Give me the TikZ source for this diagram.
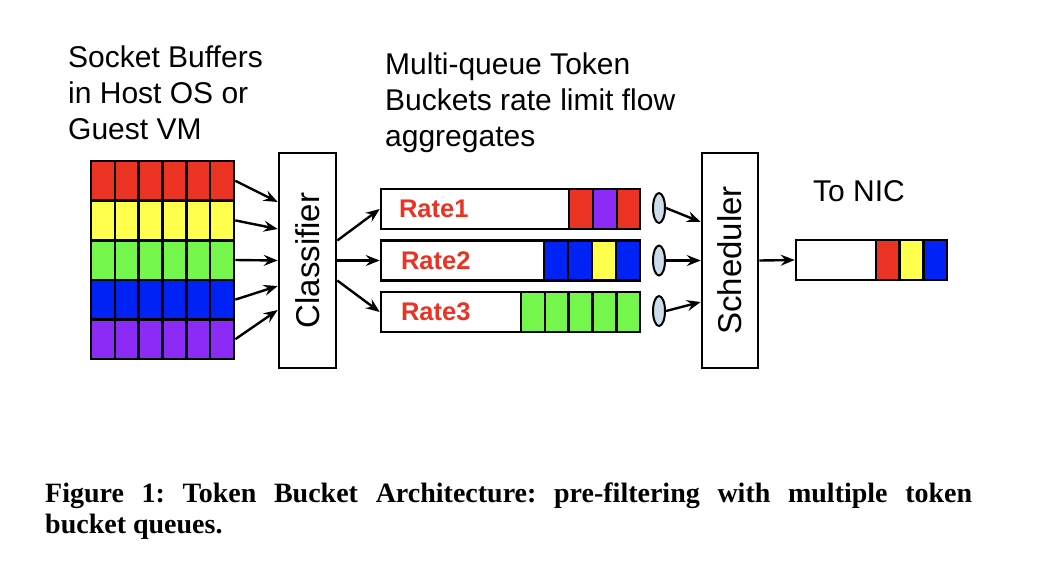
\documentclass[tikz,border=0pt]{standalone}
\usepackage{graphicx}
\usepackage{fontspec}
\setmainfont{Liberation Serif}
\setsansfont{Liberation Sans}
\usetikzlibrary{arrows.meta,calc,shapes.geometric}
\definecolor{cred}{RGB}{235,51,36}
\definecolor{cyel}{RGB}{255,255,77}
\definecolor{cgrn}{RGB}{117,246,76}
\definecolor{cblu}{RGB}{0,34,245}
\definecolor{cpur}{RGB}{140,43,246}
\definecolor{tokfill}{RGB}{205,220,235}
\begin{document}
\begin{tikzpicture}[x=1pt,y=-1pt,
  rowbox/.style={draw, line width=2.6pt, inner sep=0, minimum width=143pt, minimum height=39.6pt},
  gridline/.style={line width=2.6pt},
  bigbox/.style={draw, line width=2.6pt, fill=white, inner sep=0, minimum width=57pt, minimum height=215pt, font=\sffamily\fontsize{33}{33}\selectfont},
  queue/.style={draw, line width=2.6pt, fill=white, minimum height=40pt, text width=223pt, inner xsep=18pt, inner ysep=0, align=left, font=\sffamily\bfseries\fontsize{25.5}{25.5}\selectfont, text=cred},
  cell/.style={draw, line width=2.6pt},
  tok/.style={ellipse, draw, line width=2pt, fill=tokfill, minimum width=12pt, minimum height=30pt, inner sep=0},
  arr/.style={-{Stealth[length=14pt,width=11pt,inset=5pt]}, line width=2.4pt},
  heading/.style={font=\sffamily\fontsize{30}{36}\selectfont, align=left, inner sep=0}
]
\useasboundingbox (0,0) rectangle (1062,574);

% headings
\node[heading, anchor=base west] (h1) at (68,139) {Socket Buffers\\in Host OS or\\Guest VM};
\node[heading, anchor=base west] (h2) at (385,146.5) {Multi-queue Token\\Buckets rate limit flow\\aggregates};
\node[heading, anchor=base west] (h3) at (813,201) {To NIC};

% socket buffers grid
\node[rowbox, fill=cred] (r1) at (162.5,180.8) {};
\node[rowbox, fill=cyel] (r2) at (162.5,220.4) {};
\node[rowbox, fill=cgrn] (r3) at (162.5,260.0) {};
\node[rowbox, fill=cblu] (r4) at (162.5,299.6) {};
\node[rowbox, fill=cpur] (r5) at (162.5,339.2) {};
\foreach \k in {1,...,5}
  \draw[gridline] ({91+\k*23.83},161) -- ({91+\k*23.83},359);

% classifier
\node[bigbox] (cls) at (307.5,260.5) {\rotatebox{90}{Classifier}};

% queues
\node[queue] (q1) at (510.5,209) {Rate1};
\node[queue, inner xsep=20pt, text width=219pt] (q2) at (510.5,260.5) {Rate2};
\node[queue, inner xsep=20pt, text width=219pt] (q3) at (510.5,312) {Rate3};
\draw[cell, fill=cred] (569,189) rectangle (593,229);
\draw[cell, fill=cpur] (593,189) rectangle (617,229);
\draw[cell, fill=cred] (617,189) rectangle (640,229);
\draw[cell, fill=cblu] (544,240.5) rectangle (568,280.5);
\draw[cell, fill=cblu] (568,240.5) rectangle (592,280.5);
\draw[cell, fill=cyel] (592,240.5) rectangle (616,280.5);
\draw[cell, fill=cblu] (616,240.5) rectangle (640,280.5);
\foreach \k in {0,...,4}
  \draw[cell, fill=cgrn] ({521+\k*23.8},292) rectangle ({521+(\k+1)*23.8},332);

% tokens
\node[tok] (e1) at (659,208) {};
\node[tok] (e2) at (659,260.5) {};
\node[tok] (e3) at (659,311) {};

% scheduler
\node[bigbox, minimum width=56pt] (sch) at (730,260.5) {\rotatebox{90}{Scheduler}};

% NIC queue
\node[draw, line width=2.6pt, fill=white, inner sep=0, minimum width=151pt, minimum height=40pt] (nic) at (871.5,260) {};
\draw[cell, fill=cred] (876,240) rectangle (899.7,280);
\draw[cell, fill=cyel] (899.7,240) rectangle (923.3,280);
\draw[cell, fill=cblu] (923.3,240) rectangle (947,280);

% arrows: buffers -> classifier
\draw[arr] (r1.east) -- ($(cls.west)+(0,-58.5)$);
\draw[arr] (r2.east) -- ($(cls.west)+(0,-31.5)$);
\draw[arr] (r3.east) -- (cls.west);
\draw[arr] (r4.east) -- ($(cls.west)+(0,25.5)$);
\draw[arr] (r5.east) -- ($(cls.west)+(0,49.5)$);
% classifier -> queues
\draw[arr] ($(cls.east)+(0,-20)$) -- (q1.west);
\draw[arr] (cls.east) -- (q2.west);
\draw[arr] ($(cls.east)+(0,20)$) -- (q3.west);
% tokens -> scheduler
\draw[arr] (e1.east) -- ($(sch.west)+(0,-38.5)$);
\draw[arr] (e2.east) -- (sch.west);
\draw[arr] (e3.east) -- ($(sch.west)+(0,41.5)$);
% scheduler -> NIC
\draw[arr] (sch.east) -- (nic.west);

% caption
\node[anchor=base west, inner sep=0, align=left, font=\bfseries\fontsize{28}{31}\selectfont] (cap) at (45,533)
  {\frenchspacing\makebox[927pt][s]{Figure 1: Token Bucket Architecture: pre-filtering with multiple token}\\bucket queues.};
\end{tikzpicture}
\end{document}
